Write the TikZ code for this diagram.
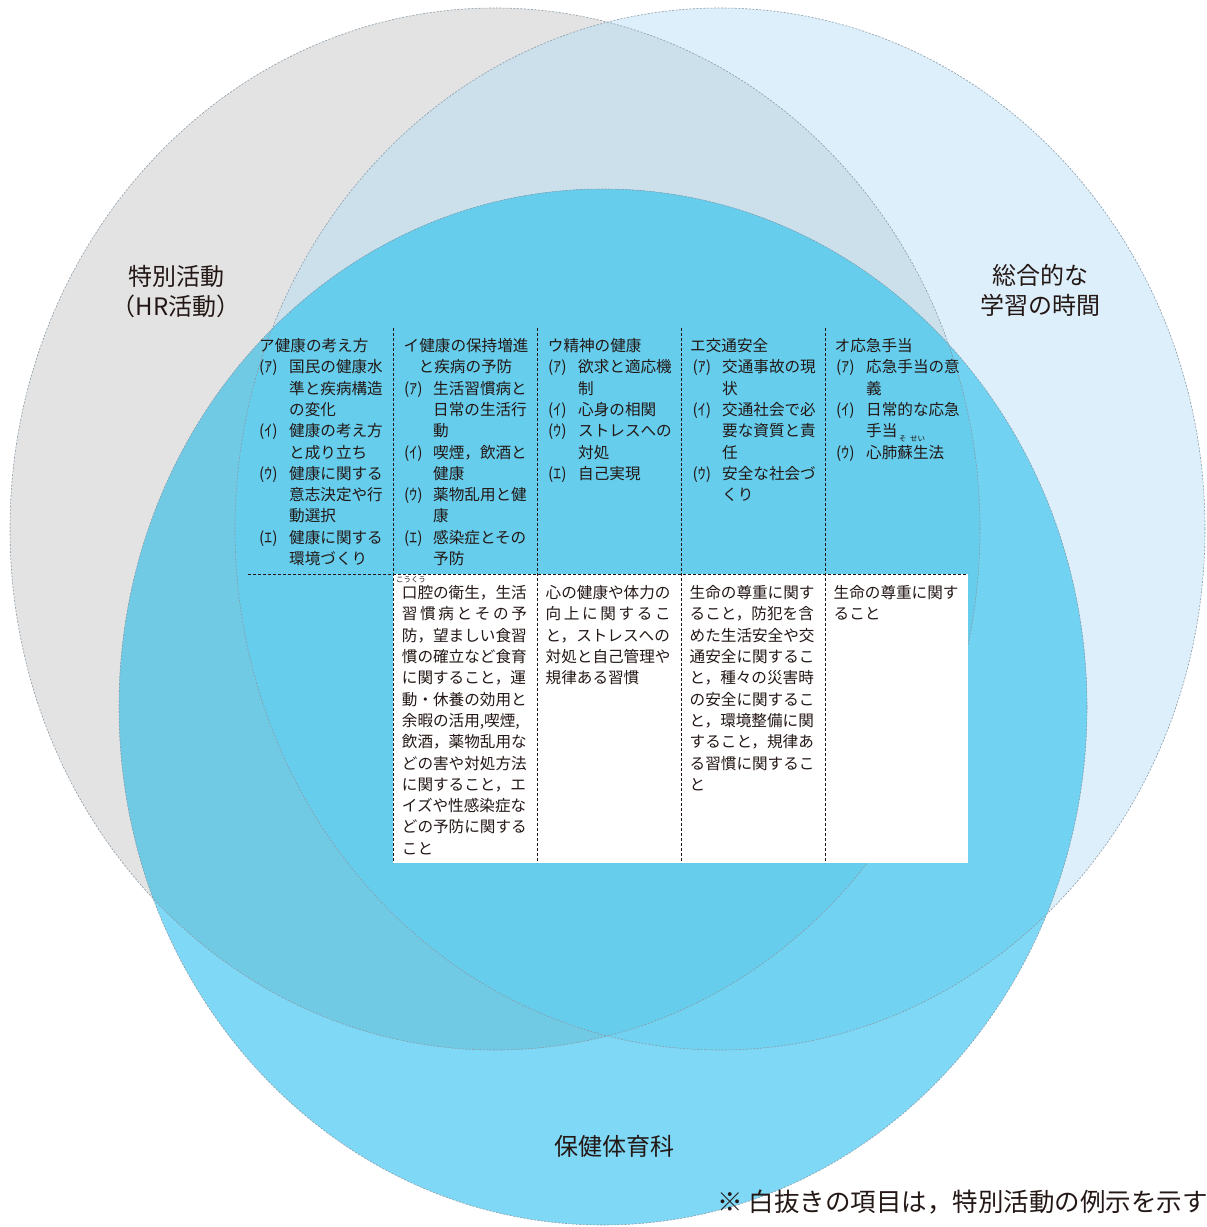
\documentclass[tikz,border=0pt]{standalone}
\usepackage{fontspec}
\setmainfont{Noto Sans CJK JP}
\newfontfamily\jp{Noto Sans CJK JP}
\definecolor{ink}{HTML}{231815}
\definecolor{cG}{HTML}{E3E3E3}
\definecolor{cL}{HTML}{DDEFFA}
\definecolor{cGL}{HTML}{CCE0EB}
\definecolor{cB}{HTML}{7FD8F5}
\definecolor{cBG}{HTML}{70CAE4}
\definecolor{cBL}{HTML}{71D2F1}
\definecolor{cBGL}{HTML}{66CDEC}
\definecolor{edgec}{HTML}{8A9BA8}
\tikzset{
  txt/.style={anchor=base west, inner sep=0pt, font=\jp\fontsize{15.6}{21}\selectfont, text=ink},
  ruby/.style={anchor=base, inner sep=0pt, font=\jp\fontsize{7.5}{8}\selectfont, text=ink},
  tdash/.style={draw=ink, line width=1pt, dash pattern=on 3pt off 2pt},
  cedge/.style={draw=edgec, line width=0.6pt, dash pattern=on 2pt off 1.5pt},
  biglabel/.style={inner sep=0pt, align=center, font=\jp\fontsize{24}{30}\selectfont, text=ink},
}
\def\Gpath{(495,529) ellipse [x radius=485pt, y radius=521pt]}
\def\Lpath{(720,529) ellipse [x radius=485pt, y radius=521pt]}
\def\Bpath{(603,707) ellipse [x radius=484pt, y radius=518pt]}
\newcommand\tlines[4]{\foreach \t [count=\i from #3] in {#4} {\node[txt] (#1\i) at (#2,{351.7+21.26*\i}) {\t};}}
\newcommand\blines[3]{\foreach \t [count=\i from 0] in {#3} {\node[txt] (#1\i) at (#2,{598.6+21.3*\i}) {\t};}}
\newcommand\lab[4]{\node[txt] (#1) at (#2,{351.7+21.26*#3}) {#4};}
\newcommand\spA{\makebox[125pt][s]{習\hfil 慣\hfil 病\hfil と\hfil そ\hfil の\hfil 予}}
\newcommand\spB{\makebox[125pt][s]{向\hfil 上\hfil に\hfil 関\hfil す\hfil る\hfil こ}}
\newcommand\yoka{余暇の活用{,}喫煙{,}}
\begin{document}
\begin{tikzpicture}[x=1pt,y=-1pt]
\path[use as bounding box] (0,0) rectangle (1207,1227);
% circles
\fill[cG] \Gpath;
\fill[cL] \Lpath;
\begin{scope}\clip \Gpath; \fill[cGL] \Lpath;\end{scope}
\fill[cB] \Bpath;
\begin{scope}\clip \Bpath; \fill[cBG] \Gpath; \fill[cBL] \Lpath; \clip \Gpath; \fill[cBGL] \Lpath;\end{scope}
\draw[cedge] \Gpath;
\draw[cedge] \Lpath;
\draw[cedge] \Bpath;
% big labels
\node[biglabel] (tokkatsu) at (176,292) {特別活動\\（HR活動）};
\node[biglabel] (sogo) at (1040,290) {総合的な\\学習の時間};
\node[biglabel] (hotai) at (614,1146) {保健体育科};
\node[anchor=base east, inner sep=0pt, font=\jp\fontsize{25.5}{30}\selectfont, text=ink] (note) at (1208,1211) {※ 白抜きの項目は，特別活動の例示を示す};
% table
\fill[white] (393,574) rectangle (968,863);
\foreach \x in {393,537,681,825} {\draw[tdash] (\x,328) -- (\x,863);}
\draw[tdash] (248,574) -- (968,574);
% column 1
\node[txt] (h1) at (259,351.7) {ア健康の考え方};
\lab{c1a}{259}{1}{(ｱ)}\lab{c1b}{259}{4}{(ｲ)}\lab{c1c}{259}{6}{(ｳ)}\lab{c1d}{259}{9}{(ｴ)}
\tlines{c1t}{289}{1}{国民の健康水,準と疾病構造,の変化,健康の考え方,と成り立ち,健康に関する,意志決定や行,動選択,健康に関する,環境づくり}
% column 2
\node[txt] (h2) at (403.5,351.7) {イ健康の保持増進};
\node[txt] (h2b) at (418.5,372.96) {と疾病の予防};
\lab{c2a}{404}{2}{(ｱ)}\lab{c2b}{404}{5}{(ｲ)}\lab{c2c}{404}{7}{(ｳ)}\lab{c2d}{404}{9}{(ｴ)}
\tlines{c2t}{433}{2}{生活習慣病と,日常の生活行,動,喫煙，飲酒と,健康,薬物乱用と健,康,感染症とその,予防}
% column 3
\node[txt] (h3) at (547.7,351.7) {ウ精神の健康};
\lab{c3a}{548}{1}{(ｱ)}\lab{c3b}{548}{3}{(ｲ)}\lab{c3c}{548}{4}{(ｳ)}\lab{c3d}{548}{6}{(ｴ)}
\tlines{c3t}{578}{1}{欲求と適応機,制,心身の相関,ストレスへの,対処,自己実現}
% column 4
\node[txt] (h4) at (690,351.7) {エ交通安全};
\lab{c4a}{692.5}{1}{(ｱ)}\lab{c4b}{692.5}{3}{(ｲ)}\lab{c4c}{692.5}{6}{(ｳ)}
\tlines{c4t}{722}{1}{交通事故の現,状,交通社会で必,要な資質と責,任,安全な社会づ,くり}
% column 5
\node[txt] (h5) at (834.5,351.7) {オ応急手当};
\lab{c5a}{836}{1}{(ｱ)}\lab{c5b}{836}{3}{(ｲ)}\lab{c5c}{836}{5}{(ｳ)}
\tlines{c5t}{866}{1}{応急手当の意,義,日常的な応急,手当,心肺蘇生法}
\node[ruby] (r2) at (902.5,441.5) {そ};
\node[ruby] (r3) at (917.5,441.5) {せい};
% bottom row
\blines{b2}{401.7}{口腔の衛生，生活,\spA,防，望ましい食習,慣の確立など食育,に関すること，運,動・休養の効用と,\yoka,飲酒，薬物乱用な,どの害や対処方法,に関すること，エ,イズや性感染症な,どの予防に関する,こと}
\node[ruby] (r1) at (411,582) {こうくう};
\blines{b3}{545.5}{心の健康や体力の,\spB,と，ストレスへの,対処と自己管理や,規律ある習慣}
\blines{b4}{689.5}{生命の尊重に関す,ること，防犯を含,めた生活安全や交,通安全に関するこ,と，種々の災害時,の安全に関するこ,と，環境整備に関,すること，規律あ,る習慣に関するこ,と}
\blines{b5}{833.5}{生命の尊重に関す,ること}
\end{tikzpicture}
\end{document}
